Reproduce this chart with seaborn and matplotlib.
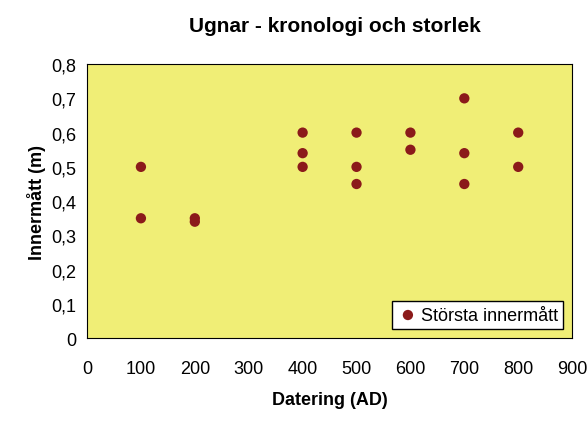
import matplotlib
matplotlib.use("Agg")
import matplotlib.pyplot as plt
import pandas as pd
import seaborn as sns
from matplotlib.ticker import FuncFormatter

# Data
datering = [100, 100, 200, 200, 400, 400, 400, 500, 500, 500, 600, 600, 700, 700, 700, 800, 800]
innermatt = [0.50, 0.35, 0.35, 0.34, 0.60, 0.54, 0.50, 0.60, 0.50, 0.45, 0.60, 0.55, 0.70, 0.54, 0.45, 0.60, 0.50]

df = pd.DataFrame({"Datering": datering, "Innermatt": innermatt})

sns.set_theme(style="white")
plt.rcParams["font.family"] = ["Liberation Sans", "DejaVu Sans"]
plt.rcParams["text.color"] = "black"
plt.rcParams["axes.labelcolor"] = "black"
plt.rcParams["xtick.color"] = "black"
plt.rcParams["ytick.color"] = "black"

fig = plt.figure(figsize=(5.88, 4.31), dpi=100)
ax = fig.add_axes([0.148, 0.213, 0.825, 0.636])
ax.set_facecolor("#F0EE76")

sns.scatterplot(data=df, x="Datering", y="Innermatt", ax=ax, color="#8B1A1A",
                s=55, edgecolor="none", label="Största innermått", zorder=3)

ax.set_xlim(0, 900)
ax.set_ylim(0, 0.8)
ax.set_xticks(range(0, 901, 100))
ax.set_yticks([i / 10 for i in range(9)])
ax.yaxis.set_major_formatter(FuncFormatter(lambda v, p: "0" if v == 0 else f"{v:.1f}".replace(".", ",")))
ax.tick_params(axis="both", labelsize=13, length=4, direction="out", color="black")
ax.tick_params(axis="x", pad=12)
for s in ax.spines.values():
    s.set_color("black")
    s.set_linewidth(0.8)

ax.set_xlabel("Datering (AD)", fontsize=13, fontweight="bold", labelpad=10)
ax.set_ylabel("Innermått (m)", fontsize=13, fontweight="bold")
fig.suptitle("Ugnar - kronologi och storlek", x=0.57, y=0.96, fontsize=15, fontweight="bold")

leg = ax.legend(loc="lower right", fontsize=13, frameon=True, fancybox=False,
                handletextpad=0.1, handlelength=1.2, borderpad=0.3,
                facecolor="white", framealpha=1)
leg.get_frame().set_edgecolor("black")

fig.savefig("out.png", dpi=100, facecolor="white")
